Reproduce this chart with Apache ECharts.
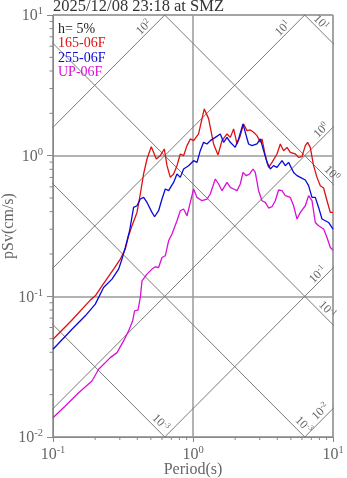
<!DOCTYPE html>
<html><head><meta charset="utf-8">
<script src="https://cdn.jsdelivr.net/npm/echarts@6/dist/echarts.min.js"></script>
<style>html,body{margin:0;padding:0;background:#fff}#c{width:347px;height:478px}</style>
</head><body><div id="c"></div>
<script>
// ---------- data ----------
const titleText = '2025/12/08 23:18 at SMZ';
const dampingText = 'h= 5%';
const xName = 'Period(s)';
const yName = 'pSv(cm/s)';
const seriesNames = ['165-06F', '255-06F', 'UP-06F'];
const xTicks = [0.1, 1, 10];
const yTicks = [0.01, 0.1, 1, 10];
const accelLines = [100, 10, 1, 0.1, 0.01];      // Sa (cm/s^2)
const dispLines = [10, 1, 0.1, 0.01, 0.001];     // Sd (cm)

const periods165 = [0.1,0.1351,0.1847,0.2005,0.2239,0.2710,0.3025,0.3284,0.3467,0.3667,0.3981,0.4204,0.4438,0.4693,0.5036,0.5470,0.5841,0.6237,0.6521,0.6883,0.7266,0.7684,0.8115,0.8568,0.9061,0.9566,1.010,1.096,1.159,1.204,1.292,1.403,1.509,1.611,1.750,1.847,1.950,2.062,2.177,2.298,2.430,2.566,2.710,2.865,3.025,3.111,3.284,3.467,3.667,3.981,4.204,4.438,4.693,4.955,5.379,5.679,6.005,6.341,6.586,6.883,7.266,7.684,8.115,8.568,9.061,9.566,10];
const sv165 = [0.0496,0.0670,0.0940,0.1008,0.1188,0.1563,0.184,0.2168,0.2697,0.3177,0.395,0.534,0.741,0.947,1.159,0.947,1.0,1.116,0.849,0.701,0.741,0.849,1.028,1.0,1.178,1.315,1.279,1.427,1.825,2.149,1.834,1.211,1.012,1.279,1.427,1.349,1.549,1.211,1.388,1.681,1.506,1.523,1.465,1.388,1.244,1.315,1.0,0.826,0.896,1.028,1.211,1.085,1.146,1.056,1.028,0.973,0.984,1.178,1.244,1.146,0.849,0.701,0.612,0.589,0.478,0.395,0.395];

const periods255 = [0.1,0.1367,0.1701,0.2005,0.2298,0.2639,0.2943,0.3111,0.3284,0.3525,0.3764,0.3981,0.4204,0.4438,0.4693,0.5094,0.5317,0.5679,0.6005,0.6341,0.6694,0.7266,0.7684,0.8115,0.8568,0.9302,1.010,1.068,1.127,1.190,1.259,1.329,1.443,1.567,1.654,1.750,1.847,2.004,2.117,2.276,2.363,2.495,2.638,2.865,3.025,3.194,3.378,3.566,3.764,3.981,4.322,4.563,4.818,5.232,5.534,5.841,6.341,6.694,7.079,7.474,7.891,8.345,8.810,9.302,10];
const sv255 = [0.0421,0.0584,0.0727,0.088,0.1155,0.1326,0.1562,0.184,0.2226,0.2925,0.4285,0.4406,0.4917,0.5048,0.4652,0.395,0.368,0.406,0.4917,0.5794,0.5636,0.6457,0.741,0.701,0.804,0.849,0.921,0.896,1.085,1.244,1.211,1.279,1.349,1.427,1.244,1.349,1.244,1.146,1.315,1.681,1.465,1.211,1.178,1.211,1.315,1.085,0.896,0.804,0.849,0.826,0.921,0.849,0.896,0.760,0.721,0.701,0.671,0.612,0.505,0.505,0.4285,0.3544,0.3446,0.335,0.3007];

const periodsUP = [0.1,0.1224,0.1524,0.1899,0.2118,0.2566,0.2865,0.3194,0.3467,0.3704,0.3828,0.4046,0.4204,0.4322,0.4693,0.5094,0.5379,0.5679,0.6005,0.6341,0.6694,0.7079,0.7684,0.8115,0.8568,0.9061,0.9566,1.010,1.068,1.159,1.259,1.329,1.443,1.524,1.611,1.750,1.847,1.950,2.062,2.177,2.276,2.403,2.537,2.683,2.786,2.942,3.111,3.284,3.467,3.667,3.871,4.088,4.322,4.563,4.955,5.232,5.534,5.841,6.341,6.694,7.079,7.474,7.891,8.568,9.061,9.566,10];
const svUP = [0.01372,0.01662,0.02066,0.02503,0.03033,0.03667,0.0398,0.0482,0.0568,0.0669,0.0788,0.0797,0.0981,0.1289,0.1439,0.1562,0.1622,0.1603,0.1889,0.1942,0.2483,0.2771,0.3446,0.406,0.4175,0.374,0.4652,0.5794,0.505,0.4783,0.4917,0.5339,0.6826,0.6288,0.5636,0.6457,0.5948,0.5794,0.5636,0.6288,0.7606,0.7206,0.741,0.804,0.7606,0.5636,0.4783,0.4652,0.4244,0.4335,0.4783,0.5701,0.5636,0.519,0.505,0.4406,0.3544,0.395,0.4406,0.519,0.4783,0.335,0.3176,0.3007,0.262,0.2226,0.2133];

// ---------- styles ----------
const FONT = 'Liberation Serif';
const GRAY = '#666';
const AXC = '#888';
const DIAG = '#7a7a7a';
const colors = ['#dd1111', '#0a0ad8', '#d811d8'];

const chart = echarts.init(document.getElementById('c'), null, {renderer: 'canvas'});
const TWO_PI = 2 * Math.PI;

function expLabel(v) {
  const e = Math.round(Math.log10(v));
  return '{b|10}{s|' + e + '}';
}
const tickRich = {
  b: {fontFamily: FONT, fontSize: 16, color: GRAY, lineHeight: 18, verticalAlign: 'bottom'},
  s: {fontFamily: FONT, fontSize: 10.5, color: GRAY, lineHeight: 11, verticalAlign: 'top'}
};

// minor tick values (2..9 per decade)
function minorVals(e0, e1) {
  const out = [];
  for (let e = e0; e < e1; e++) for (let m = 2; m <= 9; m++) out.push(+(m * Math.pow(10, e)).toPrecision(3));
  return out;
}
const xMinor = minorVals(-1, 1);
const yMinor = minorVals(-2, 1);

const series = [];
accelLines.forEach(a => series.push({
  type: 'line', silent: true, symbol: 'none', clip: true, z: 1,
  lineStyle: {color: DIAG, width: 1},
  data: [[0.01, a * 0.01 / TWO_PI], [100, a * 100 / TWO_PI]]
}));
dispLines.forEach(d => series.push({
  type: 'line', silent: true, symbol: 'none', clip: true, z: 1,
  lineStyle: {color: DIAG, width: 1},
  data: [[0.01, TWO_PI * d / 0.01], [100, TWO_PI * d / 100]]
}));
const curves = [[periods165, sv165], [periods255, sv255], [periodsUP, svUP]];
curves.forEach((c, i) => series.push({
  type: 'line', name: seriesNames[i], symbol: 'none', clip: true, z: 5,
  lineStyle: {color: colors[i], width: 1.3},
  data: c[0].map((t, k) => [t, c[1][k]])
}));
// minor ticks via custom series
series.push({
  type: 'custom', silent: true, clip: false, z: 3,
  data: xMinor.map(v => [v]),
  encode: {x: 0},
  renderItem: (params, api) => {
    const p = api.coord([api.value(0), 0.01]);
    return {type: 'line', shape: {x1: p[0], y1: p[1], x2: p[0], y2: p[1] + 3}, style: {stroke: AXC, lineWidth: 1}};
  }
});
series.push({
  type: 'custom', silent: true, clip: false, z: 3,
  data: yMinor.map(v => [v]),
  encode: {y: 0},
  renderItem: (params, api) => {
    const p = api.coord([0.1, api.value(0)]);
    return {type: 'line', shape: {x1: p[0], y1: p[1], x2: p[0] - 3.5, y2: p[1]}, style: {stroke: AXC, lineWidth: 1}};
  }
});

chart.setOption({
  animation: false,
  backgroundColor: '#fff',
  grid: {left: 53, right: 14, top: 15, bottom: 41, containLabel: false, outerBoundsMode: 'none',
    show: true, borderColor: AXC, borderWidth: 1, backgroundColor: 'transparent'},
  xAxis: {
    type: 'log', logBase: 10, min: 0.1, max: 10,
    axisLine: {lineStyle: {color: AXC, width: 1}},
    axisTick: {show: true, length: 5, lineStyle: {color: AXC}},
    minorTick: {show: false},
    axisLabel: {margin: 8, formatter: expLabel, rich: tickRich},
    splitLine: {show: true, lineStyle: {color: '#9a9a9a', width: 1.5}}
  },
  yAxis: {
    type: 'log', logBase: 10, min: 0.01, max: 10,
    axisLine: {lineStyle: {color: AXC, width: 1}},
    axisTick: {show: true, length: 6, lineStyle: {color: AXC}},
    minorTick: {show: false},
    axisLabel: {margin: 10, formatter: expLabel, rich: tickRich},
    splitLine: {show: true, lineStyle: {color: '#9a9a9a', width: 1.5}}
  },
  series: series
});

// ---------- text overlays ----------
const labelRich = {
  b: {fontFamily: FONT, fontSize: 12, fill: GRAY, color: GRAY, lineHeight: 13, verticalAlign: 'bottom'},
  s: {fontFamily: FONT, fontSize: 8, fill: GRAY, color: GRAY, lineHeight: 8, verticalAlign: 'top'}
};
// kind: 'a' (up-right line) or 'd' (down-right line); T: foot position along the line; off: perpendicular offset px
const diagLabelDefs = [
  {kind: 'a', v: 100, T: 0.4786, txt: '2', off: 6.5},
  {kind: 'a', v: 10, T: 4.697, txt: '1', off: 6.5},
  {kind: 'd', v: 10, T: 7.63, txt: '1', off: 6.5},
  {kind: 'a', v: 1, T: 8.86, txt: '0', off: 6.5},
  {kind: 'd', v: 1, T: 9.07, txt: '0', off: 7},
  {kind: 'a', v: 0.1, T: 8.36, txt: '-1', off: 6.5},
  {kind: 'd', v: 0.1, T: 8.42, txt: '-1', off: 7},
  {kind: 'a', v: 0.01, T: 8.81, txt: '-2', off: 7},
  {kind: 'd', v: 0.01, T: 5.65, txt: '-3', off: 8},
  {kind: 'd', v: 0.001, T: 0.5416, txt: '-3', off: 7.5}
];
const graphics = [];
diagLabelDefs.forEach(L => {
  const sv = L.kind === 'a' ? L.v * L.T / TWO_PI : TWO_PI * L.v / L.T;
  const p = chart.convertToPixel({gridIndex: 0}, [L.T, sv]);
  const k = L.off / Math.SQRT2;
  const x = L.kind === 'a' ? p[0] - k : p[0] + k;
  const y = p[1] - k;
  graphics.push({
    type: 'text', x: x, y: y, rotation: L.kind === 'a' ? Math.PI / 4 : -Math.PI / 4, z: 4, silent: true,
    style: {text: '{b|10}{s|' + L.txt + '}', rich: labelRich, fill: GRAY, align: 'center', verticalAlign: 'middle'}
  });
});
// axis names
const xMid = chart.convertToPixel({gridIndex: 0}, [1, 0.01]);
const yMid = chart.convertToPixel({gridIndex: 0}, [0.1, 0.1]);
graphics.push({type: 'text', x: xMid[0], y: 470, z: 10, silent: true,
  style: {text: xName, font: '16px "' + FONT + '"', fill: GRAY, align: 'center', verticalAlign: 'middle'}});
graphics.push({type: 'text', x: 9, y: (yMid[1] + chart.convertToPixel({gridIndex: 0}, [0.1, 1])[1]) / 2, rotation: Math.PI / 2, z: 10, silent: true,
  style: {text: yName, font: '16px "' + FONT + '"', fill: GRAY, align: 'center', verticalAlign: 'middle'}});
graphics.push({type: 'text', left: 53, top: -2, z: 10, silent: true,
  style: {text: titleText, font: '16.5px "' + FONT + '"', fill: '#333'}});
const legendLines = [[dampingText, '#222'], [seriesNames[0], colors[0]], [seriesNames[1], colors[1]], [seriesNames[2], colors[2]]];
legendLines.forEach((l, i) => graphics.push({type: 'text', left: 58, top: 22 + i * 14.5, z: 10, silent: true,
  style: {text: l[0], font: '14px "' + FONT + '"', fill: l[1]}}));
chart.setOption({graphic: graphics});
</script>
</body></html>
